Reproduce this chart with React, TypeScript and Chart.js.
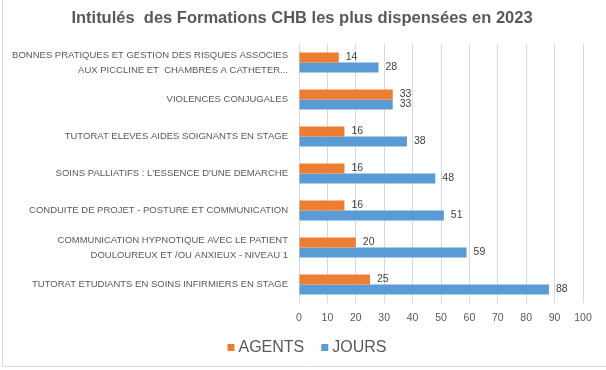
import React, { useEffect, useRef } from "react";
import { Chart, registerables } from "chart.js";

Chart.register(...registerables);

const categories: (string | string[])[] = [
  ["BONNES PRATIQUES ET GESTION DES RISQUES ASSOCIES", "AUX PICCLINE ET  CHAMBRES A CATHETER..."],
  "VIOLENCES CONJUGALES",
  "TUTORAT ELEVES AIDES SOIGNANTS EN STAGE",
  "SOINS PALLIATIFS : L'ESSENCE D'UNE DEMARCHE",
  "CONDUITE DE PROJET - POSTURE ET COMMUNICATION",
  ["COMMUNICATION HYPNOTIQUE AVEC LE PATIENT", "DOULOUREUX ET /OU ANXIEUX - NIVEAU 1"],
  "TUTORAT ETUDIANTS EN SOINS INFIRMIERS EN STAGE",
];
const agents = [14, 33, 16, 16, 16, 20, 25];
const jours = [28, 33, 38, 48, 51, 59, 88];
const seriesNames = ["AGENTS", "JOURS"];
const titleText = "Intitulés  des Formations CHB les plus dispensées en 2023";

const ORANGE = "#ED7D31";
const BLUE = "#5B9BD5";
const FONT = "'Liberation Sans', Arial, sans-serif";

const decorPlugin = {
  id: "decor",
  beforeDraw(chart: any) {
    const ctx = chart.ctx;
    ctx.save();
    ctx.fillStyle = "#ffffff";
    ctx.fillRect(0, 0, chart.width, chart.height);
    ctx.strokeStyle = "#d9d9d9";
    ctx.lineWidth = 1;
    ctx.beginPath();
    ctx.moveTo(2.5, 0);
    ctx.lineTo(2.5, 366.5);
    ctx.lineTo(chart.width, 366.5);
    ctx.stroke();
    ctx.restore();
  },
  afterDraw(chart: any) {
    const ctx = chart.ctx;
    ctx.save();
    // title
    ctx.font = `bold 16.5px ${FONT}`;
    ctx.fillStyle = "#595959";
    ctx.textAlign = "center";
    ctx.textBaseline = "middle";
    ctx.fillText(titleText, 302, 18);
    // legend
    ctx.font = `16px ${FONT}`;
    ctx.textAlign = "left";
    ctx.textBaseline = "alphabetic";
    const ds = chart.data.datasets;
    const box = 7;
    const gapBox = 4;
    const gapItem = 17;
    const widths = ds.map((d: any) => ctx.measureText(d.label).width);
    let total = 0;
    widths.forEach((w: number, i: number) => {
      total += box + gapBox + w + (i < widths.length - 1 ? gapItem : 0);
    });
    let x = 307 - total / 2;
    const baseline = 352;
    ds.forEach((d: any, i: number) => {
      ctx.fillStyle = d.backgroundColor;
      ctx.fillRect(x, baseline - 8, box, box);
      x += box + gapBox;
      ctx.fillStyle = "#595959";
      ctx.fillText(d.label, x, baseline);
      x += widths[i] + gapItem;
    });
    ctx.restore();
  },
  afterDatasetsDraw(chart: any) {
    const ctx = chart.ctx;
    ctx.save();
    ctx.font = `10.5px ${FONT}`;
    ctx.fillStyle = "#404040";
    ctx.textAlign = "left";
    ctx.textBaseline = "middle";
    chart.data.datasets.forEach((d: any, di: number) => {
      const meta = chart.getDatasetMeta(di);
      meta.data.forEach((bar: any, i: number) => {
        ctx.fillText(String(d.data[i]), bar.x + 7, bar.y);
      });
    });
    ctx.restore();
  },
};

export default function App() {
  const ref = useRef<HTMLCanvasElement>(null);
  useEffect(() => {
    document.body.style.margin = "0";
    const chart = new Chart(ref.current!, {
      type: "bar",
      data: {
        labels: categories,
        datasets: [
          { label: seriesNames[0], data: agents, backgroundColor: ORANGE, barPercentage: 1, categoryPercentage: 0.54 },
          { label: seriesNames[1], data: jours, backgroundColor: BLUE, barPercentage: 1, categoryPercentage: 0.54 },
        ],
      },
      options: {
        indexAxis: "y",
        responsive: false,
        animation: false,
        layout: { padding: { top: 44, right: 23, left: 0, bottom: 0 } },
        plugins: { legend: { display: false }, title: { display: false }, tooltip: { enabled: false } },
        scales: {
          x: {
            min: 0,
            max: 100,
            ticks: { stepSize: 10, color: "#595959", font: { family: FONT, size: 10.5 }, padding: 9 },
            grid: { color: "#d9d9d9", drawTicks: false },
            border: { display: false },
            afterFit(scale: any) {
              scale.height = 67;
            },
          },
          y: {
            ticks: {
              color: "#595959",
              font: { family: FONT, size: 9.5, lineHeight: 15 / 9.5 },
              padding: 11,
              autoSkip: false,
            },
            grid: { display: false, drawTicks: false },
            border: { display: false },
            afterFit(scale: any) {
              scale.width = 299;
            },
          },
        },
      },
      plugins: [decorPlugin],
    });
    return () => chart.destroy();
  }, []);
  return (
    <div style={{ width: 606, height: 370 }}>
      <canvas ref={ref} width={606} height={370} style={{ display: "block" }} />
    </div>
  );
}
